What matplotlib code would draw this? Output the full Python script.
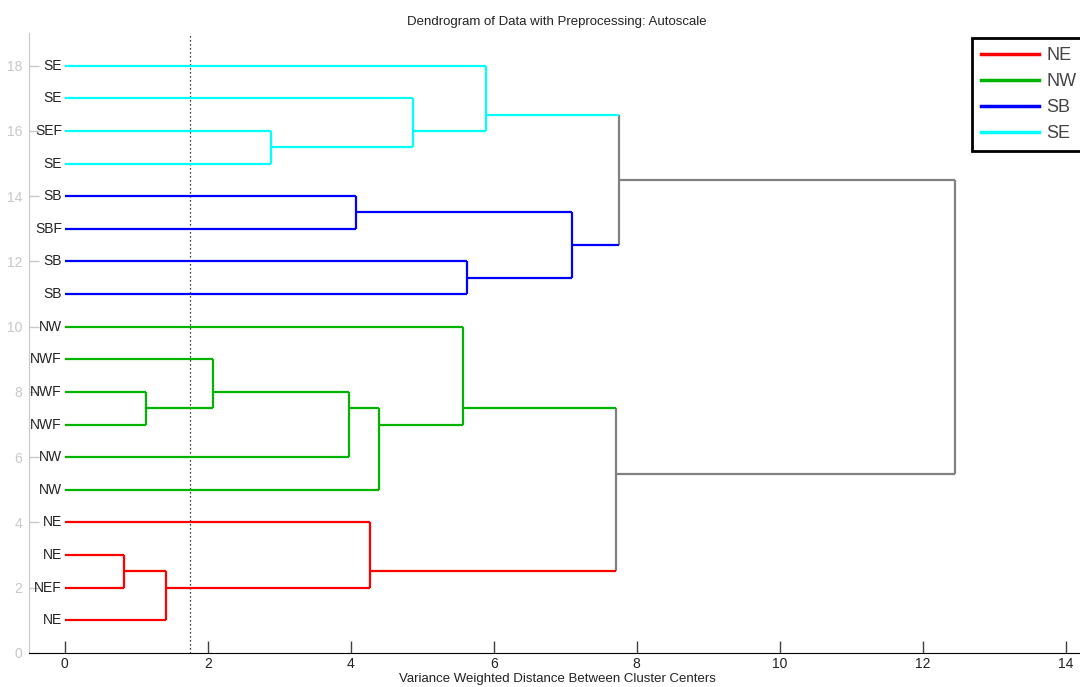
import matplotlib
matplotlib.use("Agg")
import matplotlib.pyplot as plt
from matplotlib.lines import Line2D

plt.rcParams['font.family'] = ['Liberation Sans', 'DejaVu Sans']

# Leaf labels, bottom (y=1) to top (y=18)
leaf_labels = ['NE', 'NEF', 'NE', 'NE',
               'NW', 'NW', 'NWF', 'NWF', 'NWF', 'NW',
               'SB', 'SB', 'SBF', 'SB',
               'SE', 'SEF', 'SE', 'SE']
leaf_class = ['NE', 'NE', 'NE', 'NE',
              'NW', 'NW', 'NW', 'NW', 'NW', 'NW',
              'SB', 'SB', 'SB', 'SB',
              'SE', 'SE', 'SE', 'SE']

# Linkage: child A, child B, merge distance (new node ids start at 18)
link_a = [1, 0, 19, 6, 21, 5, 4, 24, 20, 12, 10, 28, 14, 30, 31, 29, 26]
link_b = [2, 18, 3, 7, 8, 22, 23, 9, 25, 13, 11, 27, 15, 16, 17, 32, 33]
link_d = [0.825, 1.41, 4.27, 1.13, 2.08, 3.97, 4.39, 5.57, 7.71,
          4.07, 5.62, 7.10, 2.89, 4.87, 5.89, 7.75, 12.45]

cut_distance = 1.75

class_names = ['NE', 'NW', 'SB', 'SE']
class_colors = ['#ff0000', '#00b400', '#0000ff', '#00ffff']
mixed_color = '#808080'

fig = plt.figure(figsize=(10.8, 6.87), dpi=100)
ax = fig.add_axes([29/1080, 34/687, 1056/1080, 620/687])

color_of = dict(zip(class_names, class_colors))
n = len(leaf_labels)
leaves = {i: [i] for i in range(n)}
height = {i: 0.0 for i in range(n)}
for k, (a, b, d) in enumerate(zip(link_a, link_b, link_d)):
    leaves[n + k] = leaves[a] + leaves[b]
    height[n + k] = d

def pos(node):
    return sum(l + 1 for l in leaves[node]) / len(leaves[node])

def col(node):
    cls = {leaf_class[l] for l in leaves[node]}
    return color_of[cls.pop()] if len(cls) == 1 else mixed_color

lw = 1.6
for k, (a, b, d) in enumerate(zip(link_a, link_b, link_d)):
    node = n + k
    for c in (a, b):
        ax.plot([height[c], d], [pos(c), pos(c)], color=col(c), lw=lw,
                solid_capstyle='butt', zorder=3 if col(c) != mixed_color else 2)
    ax.plot([d, d], [pos(a), pos(b)], color=col(node), lw=lw,
            solid_capstyle='butt', zorder=2)

for i, lab in enumerate(leaf_labels):
    ax.annotate(lab, xy=(0, i + 1), xytext=(-2, 0), textcoords='offset points',
                ha='right', va='center', fontsize=10, color='#222222')

ax.axvline(cut_distance, color='black', ls=(0, (1, 2.2)), lw=0.9, zorder=1)

ax.set_xlim(-0.5, 14.27)
ax.set_ylim(0, 19)
ax.set_xticks(range(0, 15, 2))
ax.set_yticks(range(0, 19, 2))
ax.spines['top'].set_visible(False)
ax.spines['right'].set_visible(False)
ax.spines['left'].set_color('#c8c8c8')
ax.spines['bottom'].set_color('black')
ax.tick_params(axis='x', direction='in', length=8.5, width=1, color='#404040',
               labelsize=10, labelcolor='#222222', pad=3)
ax.tick_params(axis='y', direction='in', length=7, width=1, color='#c8c8c8',
               labelsize=10, labelcolor='#c8c8c8', pad=5)

ax.set_title('Dendrogram of Data with Preprocessing: Autoscale', fontsize=9.5,
             color='#222222', pad=6)
ax.set_xlabel('Variance Weighted Distance Between Cluster Centers', fontsize=9.5,
              color='#222222', labelpad=1)

handles = [Line2D([0], [0], color=c, lw=2.5) for c in class_colors]
leg = fig.legend(handles, class_names, loc='upper left',
                 bbox_to_anchor=(972/1080, 1 - 38/687), borderaxespad=0,
                 fontsize=13, handlelength=3.2, handletextpad=0.4,
                 labelspacing=0.5, borderpad=0.5, frameon=True, fancybox=False,
                 framealpha=1, edgecolor='black', labelcolor='#444444')
leg.get_frame().set_linewidth(2)

fig.savefig('out.png', dpi=100)
